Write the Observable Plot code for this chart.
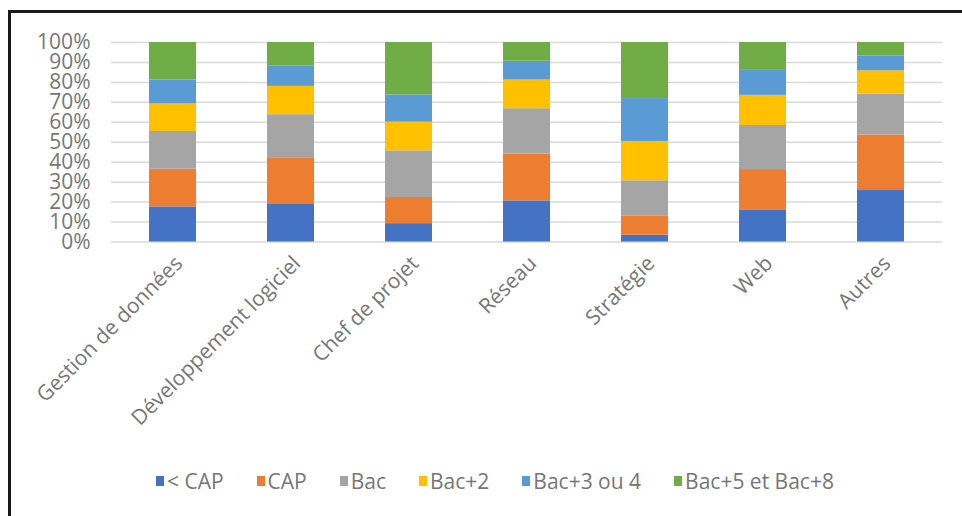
<!DOCTYPE html>
<html>
<head>
<meta charset="utf-8">
<script src="https://cdn.jsdelivr.net/npm/d3@7"></script>
<script src="https://cdn.jsdelivr.net/npm/@observablehq/plot@0.6"></script>
<style>
  html, body { margin: 0; padding: 0; background: #fff; }
  #wrap { position: relative; width: 962px; height: 516px; overflow: hidden; background: #fff; }
  #frame { position: absolute; left: 8px; top: 10px; width: 1000px; height: 600px;
           border-left: 3px solid #1a1a1a; border-top: 3px solid #1a1a1a; box-sizing: border-box; }
  #chart { position: absolute; left: 0; top: 0; }
  #legend { position: absolute; left: 156px; top: 467px; display: flex; align-items: center;
            font-family: "Open Sans", sans-serif; font-size: 21px; color: #767676; white-space: nowrap; }
  .item { display: flex; align-items: center; margin-right: 33px; }
  .sw { width: 8px; height: 10px; margin-right: 3px; }
</style>
</head>
<body>
<div id="wrap">
  <div id="frame"></div>
  <div id="chart"></div>
  <div id="legend"></div>
</div>
<script>
const categories = ["Gestion de données", "Développement logiciel", "Chef de projet", "Réseau", "Stratégie", "Web", "Autres"];
const series = ["< CAP", "CAP", "Bac", "Bac+2", "Bac+3 ou 4", "Bac+5 et Bac+8"];
const ltCap = [17.6, 18.8, 9.2, 20.6, 3.4, 16.1, 25.8];
const cap   = [18.9, 23.1, 13.1, 23.5, 9.7, 20.2, 27.8];
const bac   = [18.9, 21.9, 23.4, 22.7, 17.6, 22.1, 20.6];
const bac2  = [13.8, 14.2, 14.4, 14.4, 19.7, 15.1, 11.6];
const bac34 = [12.0, 10.3, 13.6, 9.4, 21.5, 12.9, 7.5];
const bac58 = [18.8, 11.7, 26.3, 9.4, 28.1, 13.6, 6.7];
const colors = ["#4472C4", "#ED7D31", "#A5A5A5", "#FFC000", "#5B9BD5", "#70AD47"];
const yTicks = [0, 10, 20, 30, 40, 50, 60, 70, 80, 90, 100];

const seriesValues = [ltCap, cap, bac, bac2, bac34, bac58];
const data = [];
series.forEach((s, si) => {
  categories.forEach((c, ci) => data.push({category: c, level: s, value: seriesValues[si][ci]}));
});

const H = 460;
const plot = Plot.plot({
  width: 962,
  height: H,
  marginLeft: 111,
  marginRight: 20,
  marginTop: 42,
  marginBottom: H - 241.5,
  style: {fontFamily: "Open Sans, sans-serif", fontSize: "21px", color: "#767676", background: "transparent", overflow: "visible"},
  x: {domain: categories, paddingInner: 0.6, paddingOuter: 0.3, label: null},
  y: {domain: [0, 100], label: null},
  color: {domain: series, range: colors},
  marks: [
    Plot.gridY(yTicks, {stroke: "#d9d9d9", strokeOpacity: 1, strokeWidth: 1.5}),
    Plot.barY(data, Plot.stackY({
      x: "category", y: "value", fill: "level", order: series
    })),
    Plot.axisY({ticks: yTicks, tickSize: 0, tickPadding: 21, tickFormat: d => d + "%", fontSize: 21, fill: "#767676"}),
    Plot.axisX({tickSize: 0, tickRotate: -45, tickPadding: 18, fontSize: 21, fill: "#767676", dx: 6, label: null})
  ]
});
document.getElementById("chart").appendChild(plot);

const legend = document.getElementById("legend");
series.forEach((s, i) => {
  const it = document.createElement("div");
  it.className = "item";
  const sw = document.createElement("div");
  sw.className = "sw";
  sw.style.background = colors[i];
  const t = document.createElement("span");
  t.textContent = s;
  it.appendChild(sw); it.appendChild(t);
  legend.appendChild(it);
});
</script>
</body>
</html>
